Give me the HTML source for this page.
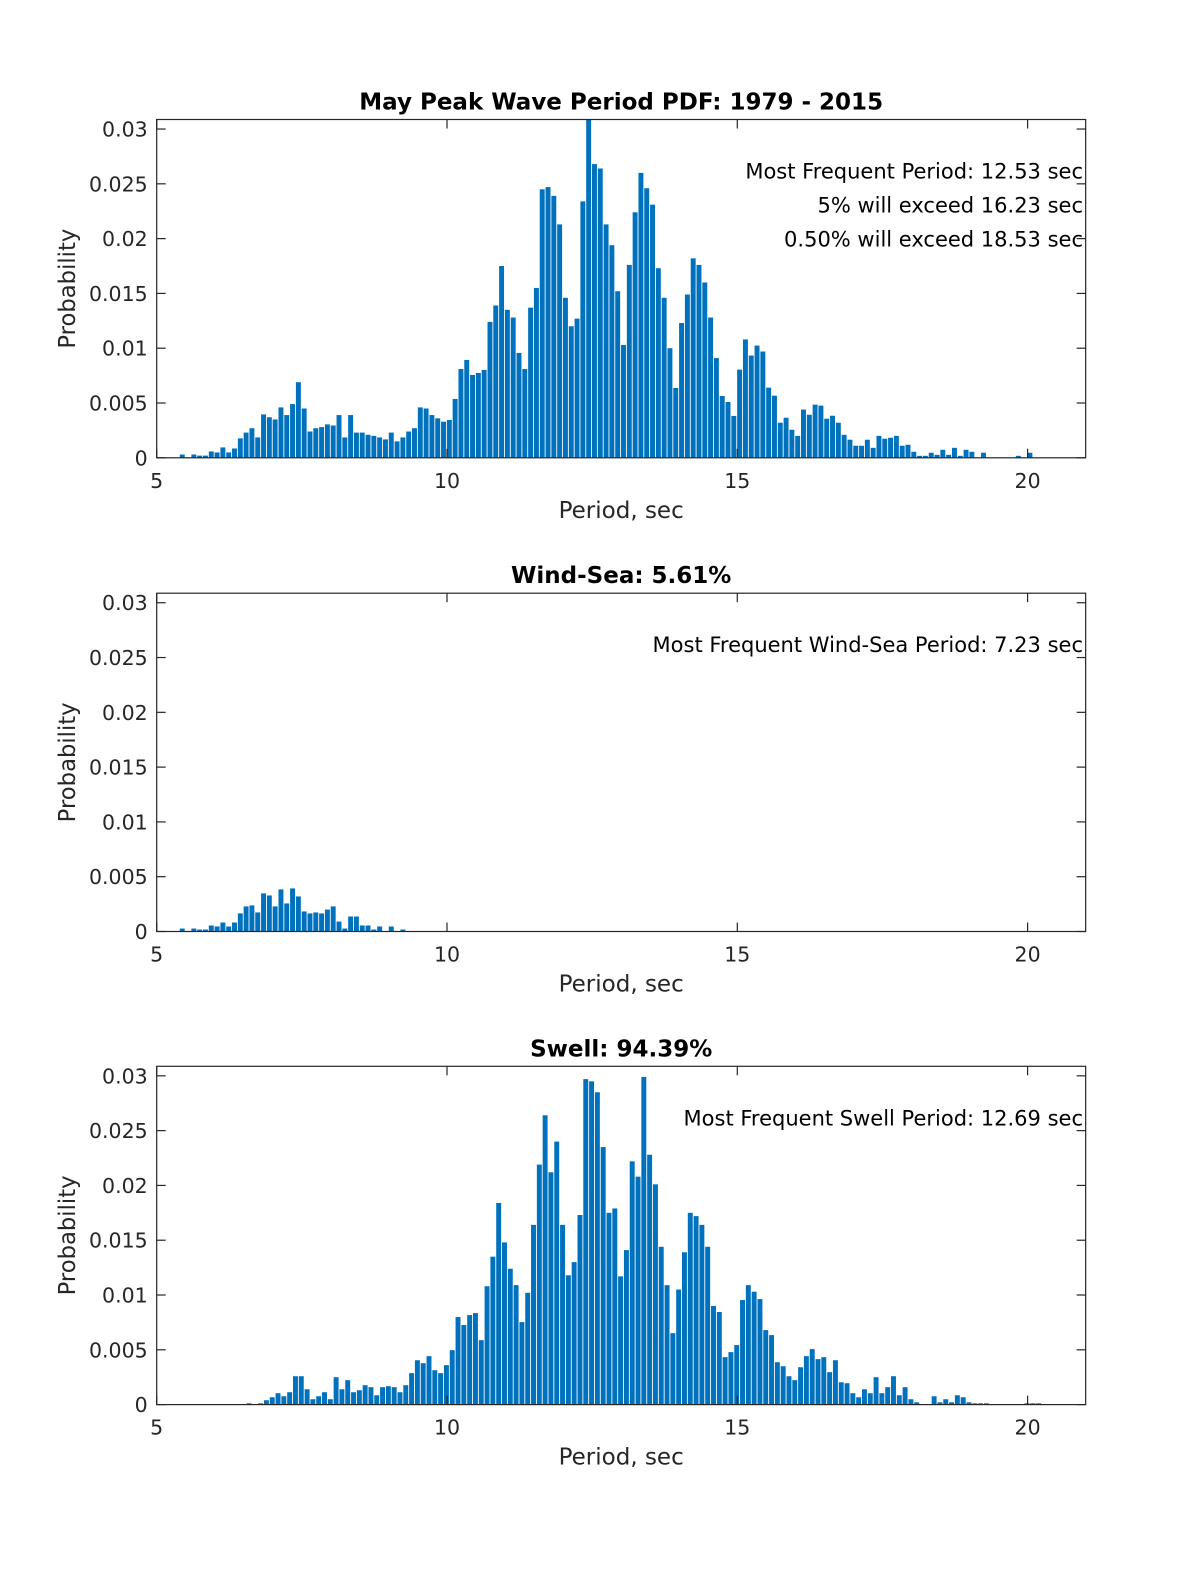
<!DOCTYPE html>
<html><head><meta charset="utf-8"><style>
html,body{margin:0;padding:0;background:#fff;}
svg text{font-family:"DejaVu Sans","Liberation Sans",sans-serif;fill:#262626;}
</style></head>
<body>
<svg id="fig" width="1200" height="1575" viewBox="0 0 1200 1575" xmlns="http://www.w3.org/2000/svg"></svg>
<script>
// ---- data ----
const xTicks = [5, 10, 15, 20];
const yTicks = [0, 0.005, 0.01, 0.015, 0.02, 0.025, 0.03];
const yTickLabels = ["0", "0.005", "0.01", "0.015", "0.02", "0.025", "0.03"];
const start1 = 5.44;
const start3 = 6.59;
// values in units of 0.001
const totalVals = [0.3,0,0.3,0.2,0.2,0.58,0.49,0.95,0.49,0.85,1.77,2.3,2.7,1.86,3.96,3.7,3.5,4.6,3.9,4.9,6.9,4.5,2.4,2.7,2.8,3.05,2.95,3.9,1.86,3.9,2.3,2.3,2.1,2.0,1.86,1.68,2.3,1.5,1.86,2.4,2.7,4.6,4.5,3.9,3.6,3.3,3.45,5.37,8.1,8.93,7.56,7.74,8.02,12.4,13.9,17.5,13.5,12.8,9.57,8.1,13.7,15.5,24.5,24.7,23.9,21.3,14.6,12.0,12.7,23.4,31.5,26.8,26.4,21.3,19.4,15.2,10.3,17.6,22.4,26.0,24.6,23.1,17.3,14.6,10.0,6.37,12.3,14.9,18.2,17.6,16.0,12.8,9.1,5.64,5.09,3.82,8.05,10.8,9.33,10.24,9.7,6.4,5.67,3.2,3.66,2.56,2.0,4.4,3.93,4.85,4.76,3.57,3.84,3.2,2.1,1.65,1.1,1.1,1.65,0.91,2.0,1.74,1.83,2.0,1.1,1.19,0.55,0.18,0.18,0.46,0.27,0.73,0.27,0.91,0.18,0.73,0.55,0,0.46,0,0,0,0,0,0.18,0,0.46];
const windVals = [0.27,0,0.27,0.18,0.18,0.55,0.46,0.82,0.46,0.82,1.65,2.29,2.38,1.74,3.48,3.29,2.29,3.84,2.56,3.93,3.2,1.83,1.65,1.74,1.65,2.0,2.29,0.91,0.27,1.37,1.37,0.55,0.55,0.18,0.46,0,0.46,0,0.18];
const swellVals = [0.12,0,0.12,0.4,0.67,1.04,0.76,1.13,2.59,2.59,1.4,0.49,0.76,1.13,0.49,2.5,1.4,2.23,1.13,1.31,1.77,1.59,0.85,1.59,1.68,1.59,1.13,1.77,2.87,4.05,3.78,4.42,3.14,2.87,3.6,4.97,7.99,7.26,8.17,8.35,5.88,10.8,13.5,18.4,14.8,12.4,10.9,7.53,10.2,16.4,21.9,26.4,21.2,24.0,16.4,11.8,13.0,17.3,29.7,29.5,28.5,23.5,17.5,17.9,11.7,14.1,22.2,20.8,29.9,22.8,20.1,14.4,10.9,6.52,10.5,13.9,17.5,17.2,16.4,14.4,9.0,8.45,4.33,4.79,5.43,9.54,10.9,10.3,9.63,6.8,6.34,3.87,3.5,2.59,2.23,3.41,4.42,5.06,4.15,4.33,2.96,4.05,2.04,1.95,1.04,0.67,1.4,1.04,2.5,1.04,1.59,2.59,0.85,1.59,0.49,0.21,0,0,0.76,0.21,0.49,0.21,0.85,0.67,0.21,0.12,0.12,0.12,0,0,0,0,0,0,0.12,0.12,0.12];
const titles = ["May Peak Wave Period PDF: 1979 - 2015", "Wind-Sea: 5.61%", "Swell: 94.39%"];
const notes = [["Most Frequent Period: 12.53 sec","5% will exceed 16.23 sec","0.50% will exceed 18.53 sec"],["Most Frequent Wind-Sea Period: 7.23 sec"],["Most Frequent Swell Period: 12.69 sec"]];

// ---- drawing ----
const NS = "http://www.w3.org/2000/svg";
const svg = document.getElementById('fig');
const X0 = 156.7, PXU = 58.06, XMIN = 5, XMAX = 21;
const PH = 338.3, YMAX = 0.03087;
const tops = [119.5, 593.2, 1066.3];
function mk(tag, attrs, parent){const e=document.createElementNS(NS,tag);for(const k in attrs)e.setAttribute(k,attrs[k]);(parent||svg).appendChild(e);return e;}
function xs(v){return X0+(v-XMIN)*PXU;}

function panel(p, vals, start){
  const top = tops[p], bot = top+PH, right = xs(XMAX);
  const ys = v => bot - v/YMAX*PH;
  const g = mk('g',{});
  
  
  const bars = mk('g',{},g);
  
  
  const bw = 0.085*PXU;
  vals.forEach((v,i)=>{
    if(v<=0) return;
    const c = start + 0.1*i;
    const val = Math.min(v/1000, YMAX);
    const y = ys(val);
    const r = mk('rect',{x:(xs(c)-bw/2).toFixed(2),y:y.toFixed(2),width:bw.toFixed(2),height:(bot-y).toFixed(2),fill:'#0072BD'},bars);
    
    
  });
  const box = mk('rect',{x:X0,y:top,width:right-X0,height:PH,fill:'none',stroke:'#262626','stroke-width':1.2},g);
  
  
  xTicks.forEach(t=>{
    const x = xs(t);
    mk('line',{x1:x,x2:x,y1:bot,y2:bot-9,stroke:'#262626','stroke-width':1.2},g);
    mk('line',{x1:x,x2:x,y1:top,y2:top+9,stroke:'#262626','stroke-width':1.2},g);
    const tx = mk('text',{x:x,y:bot+30,'text-anchor':'middle','font-size':20.5},g);
    tx.textContent = t;
    
    
  });
  yTicks.forEach((t,i)=>{
    const y = ys(t);
    mk('line',{x1:X0,x2:X0+9,y1:y,y2:y,stroke:'#262626','stroke-width':1.2},g);
    mk('line',{x1:right,x2:right-9,y1:y,y2:y,stroke:'#262626','stroke-width':1.2},g);
    const tx = mk('text',{x:X0-9,y:y+7.5,'text-anchor':'end','font-size':20.5},g);
    tx.textContent = yTickLabels[i];
    
    
  });
  const xl = mk('text',{x:(X0+right)/2,y:bot+60,'text-anchor':'middle','font-size':23},g);
  xl.textContent = 'Period, sec';
  
  
  const cy = (top+bot)/2;
  const yl = mk('text',{x:75,y:cy,'text-anchor':'middle','font-size':22.7,transform:'rotate(-90 75 '+cy+')'},g);
  yl.textContent = 'Probability';
  
  
  const tt = mk('text',{x:(X0+right)/2,y:top-10,'text-anchor':'middle','font-size':23,'font-weight':'bold'},g);
  tt.textContent = titles[p];
  tt.style.fill = '#000';
  
  
  notes[p].forEach((s,i)=>{
    const n = mk('text',{x:1083,y:top+59+i*34,'text-anchor':'end','font-size':21},g);
    n.textContent = s;
    n.style.fill = '#000';
    
    
  });
}
panel(0, totalVals, start1);
panel(1, windVals, start1);
panel(2, swellVals, start3);
</script>
</body></html>
